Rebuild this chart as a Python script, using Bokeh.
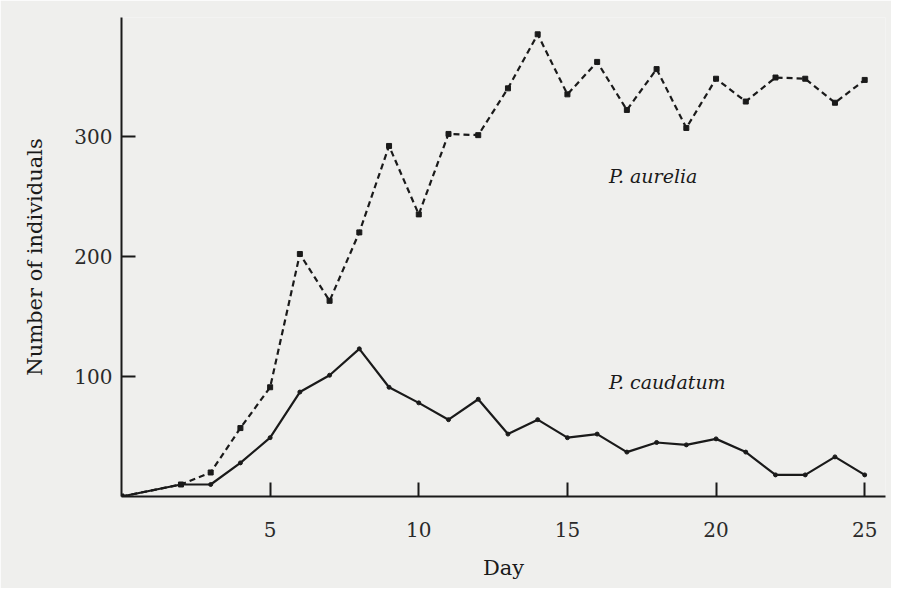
from bokeh.plotting import figure
from bokeh.models import Range1d, LinearAxis, FixedTicker, Label
from bokeh.embed import file_html
from bokeh.resources import INLINE

days = [0, 2, 3, 4, 5, 6, 7, 8, 9, 10, 11, 12, 13, 14, 15, 16, 17, 18, 19, 20, 21, 22, 23, 24, 25]
aurelia = [0, 10, 20, 57, 91, 202, 163, 220, 292, 235, 302, 301, 340, 385, 335, 362, 322, 356, 307, 348, 329, 349, 348, 328, 347]
caudatum = [0, 10, 10, 28, 49, 87, 101, 123, 91, 78, 64, 81, 52, 64, 49, 52, 37, 45, 43, 48, 37, 18, 18, 33, 18]
x_ticks = [5, 10, 15, 20, 25]
y_ticks = [100, 200, 300]

BG = "#efefed"
INK = "#1a1a1a"
SERIF = "DejaVu Serif"

p = figure(width=891, height=588, output_backend="svg", toolbar_location=None,
           x_range=Range1d(0, 25.7), y_range=Range1d(0, 399),
           x_axis_location=None, y_axis_location=None,
           min_border_left=121, min_border_right=6, min_border_top=17, min_border_bottom=92)
p.outline_line_color = None
p.background_fill_color = BG
p.border_fill_color = BG
p.grid.visible = False

xa = LinearAxis(ticker=FixedTicker(ticks=x_ticks), axis_label="Day")
ya = LinearAxis(ticker=FixedTicker(ticks=y_ticks), axis_label="Number of individuals")
for ax in (xa, ya):
    ax.axis_line_color = INK
    ax.axis_line_width = 2
    ax.major_tick_line_color = INK
    ax.major_tick_line_width = 2
    ax.major_tick_in = 14
    ax.major_tick_out = 0
    ax.minor_tick_line_color = None
    ax.major_label_text_font = SERIF
    ax.major_label_text_font_size = "20px"
    ax.major_label_text_color = "#2a2a2a"
    ax.axis_label_text_font = SERIF
    ax.axis_label_text_font_size = "21px"
    ax.axis_label_text_font_style = "normal"
    ax.axis_label_text_color = INK
xa.major_label_standoff = 25
xa.axis_label_standoff = 16
ya.major_label_standoff = 9
ya.axis_label_standoff = 24
p.add_layout(xa, "below")
p.add_layout(ya, "left")

p.line(days, aurelia, line_color=INK, line_width=2.2, line_dash="6 4")
p.scatter(days, aurelia, size=5, color=INK, marker="square")
p.line(days, caudatum, line_color=INK, line_width=2.2)
p.scatter(days, caudatum, size=4, color=INK)

p.add_layout(Label(x=16.4, y=267, text="P. aurelia", text_font=SERIF, text_font_style="italic",
                   text_font_size="19px", text_color=INK, text_baseline="middle"))
p.add_layout(Label(x=16.4, y=95, text="P. caudatum", text_font=SERIF, text_font_style="italic",
                   text_font_size="19px", text_color=INK, text_baseline="middle"))

open("out.html", "w").write(file_html(p, INLINE))
